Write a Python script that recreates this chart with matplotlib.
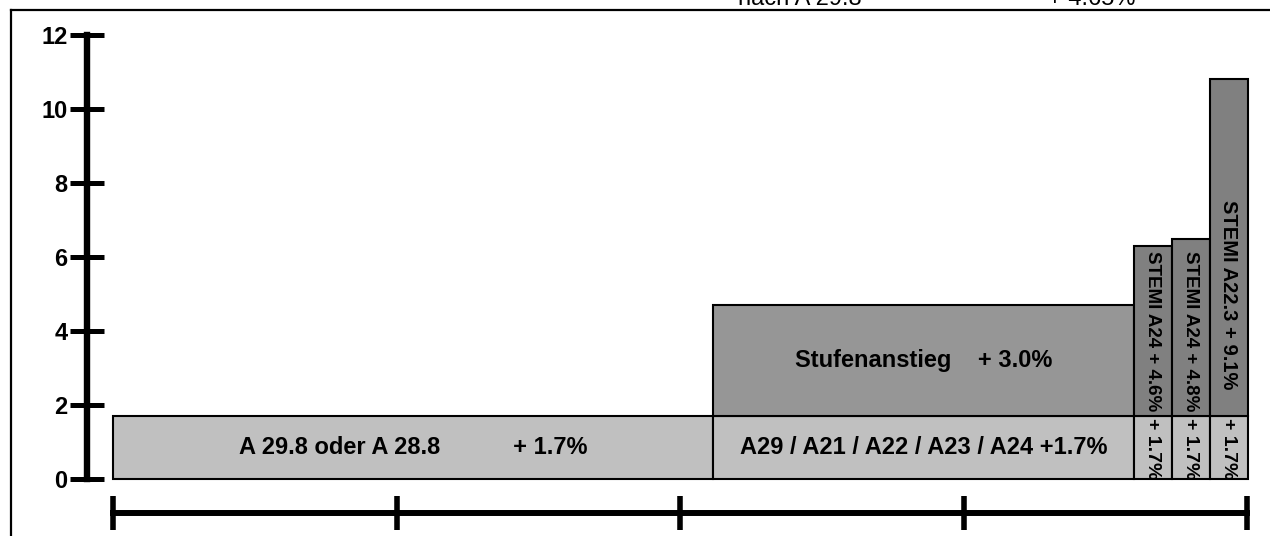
import matplotlib
matplotlib.use("Agg")
import matplotlib.pyplot as plt
from matplotlib.lines import Line2D

plt.rcParams['font.family'] = ['Liberation Sans', 'DejaVu Sans']

# grades and surcharges (percent)
groups = ["A 29.8 oder A 28.8", "A29 / A21 / A22 / A23 / A24", "STEMI A24", "STEMI A24", "STEMI A22.3"]
base_pct = [1.7, 1.7, 1.7, 1.7, 1.7]
step_pct = [0.0, 3.0, 4.6, 4.8, 9.1]
y_ticks = [0, 2, 4, 6, 8, 10, 12]
x_ticks = [0, 1, 2, 3, 4]
header = ["nach A 29.8", "+ 4.65%"]

# bar geometry on the lower scale
lefts = [0.0, 2.117, 3.601, 3.735, 3.869]
widths = [2.117, 1.484, 0.134, 0.134, 0.134]

LIGHT = "#c0c0c0"
MID = "#969696"
DARK = "#808080"

W, H = 1270, 536
fig = plt.figure(figsize=(W / 100, H / 100), dpi=100)
ax = fig.add_axes([113 / W, (H - 479) / H, (1247 - 113) / W, (479 - 35) / H])

for i in range(len(groups)):
    ax.bar(lefts[i], base_pct[i], width=widths[i], align='edge', color=LIGHT,
           edgecolor='black', linewidth=1.5, zorder=2, clip_on=False)
    if step_pct[i] > 0:
        col = MID if i == 1 else DARK
        ax.bar(lefts[i], step_pct[i], width=widths[i], bottom=base_pct[i], align='edge',
               color=col, edgecolor='black', linewidth=1.5, zorder=2, clip_on=False)

bold = dict(fontweight='bold', color='black', zorder=5)

# wide bars: horizontal labels
cx = lefts[0] + widths[0] / 2
ax.text(cx, base_pct[0] / 2, groups[0] + "           + %.1f%%" % base_pct[0],
        ha='center', va='center', fontsize=17, **bold)
cx = lefts[1] + widths[1] / 2
ax.text(cx, base_pct[1] / 2, groups[1] + " +%.1f%%" % base_pct[1],
        ha='center', va='center', fontsize=17, **bold)
ax.text(cx, base_pct[1] + step_pct[1] / 2, "Stufenanstieg    + %.1f%%" % step_pct[1],
        ha='center', va='center', fontsize=17, **bold)

# narrow bars: vertical labels
stemi_y = [4.0, 4.0, 4.97]
stemi_fs = [13.5, 13.5, 14.5]
for k, i in enumerate(range(2, 5)):
    cx = lefts[i] + widths[i] / 2
    ax.text(cx, stemi_y[k], "%s + %.1f%%" % (groups[i], step_pct[i]), rotation=270,
            ha='center', va='center', fontsize=stemi_fs[k], **bold)
    ax.text(cx, base_pct[i] / 2 - 0.02, "+ %.1f%%" % base_pct[i], rotation=270,
            ha='center', va='center', fontsize=14, **bold)

ax.set_xlim(0, 4)
ax.set_ylim(0, 12)
ax.set_facecolor('none')
for s in ['top', 'right']:
    ax.spines[s].set_visible(False)
ax.spines['left'].set_position(('outward', 18.7))
ax.spines['left'].set_bounds(0, 12)
ax.spines['left'].set_linewidth(4.6)
ax.spines['bottom'].set_position(('outward', 24.5))
ax.spines['bottom'].set_bounds(0, 4)
ax.spines['bottom'].set_linewidth(4.3)

ax.set_yticks(y_ticks)
ax.set_yticklabels([str(v) for v in y_ticks], fontsize=17, fontweight='bold')
ax.set_xticks(x_ticks)
ax.set_xticklabels([])
ax.tick_params(axis='y', direction='inout', length=24, width=3.6, pad=2)
ax.tick_params(axis='x', direction='inout', length=24.5, width=4.0)

# slide frame and header line cut by the top edge
fy = 1 - 10 / H
fx = 11 / W
fig.add_artist(Line2D([fx, fx], [0, fy], color='black', linewidth=1.6))
fig.add_artist(Line2D([fx, 1], [fy, fy], color='black', linewidth=1.6))
fig.text(738 / W, 1 - 5 / H, header[0], fontsize=17, va='baseline', ha='left')
fig.text(1048 / W, 1 - 5 / H, header[1], fontsize=17, va='baseline', ha='left')

fig.savefig("out.png", dpi=100)
